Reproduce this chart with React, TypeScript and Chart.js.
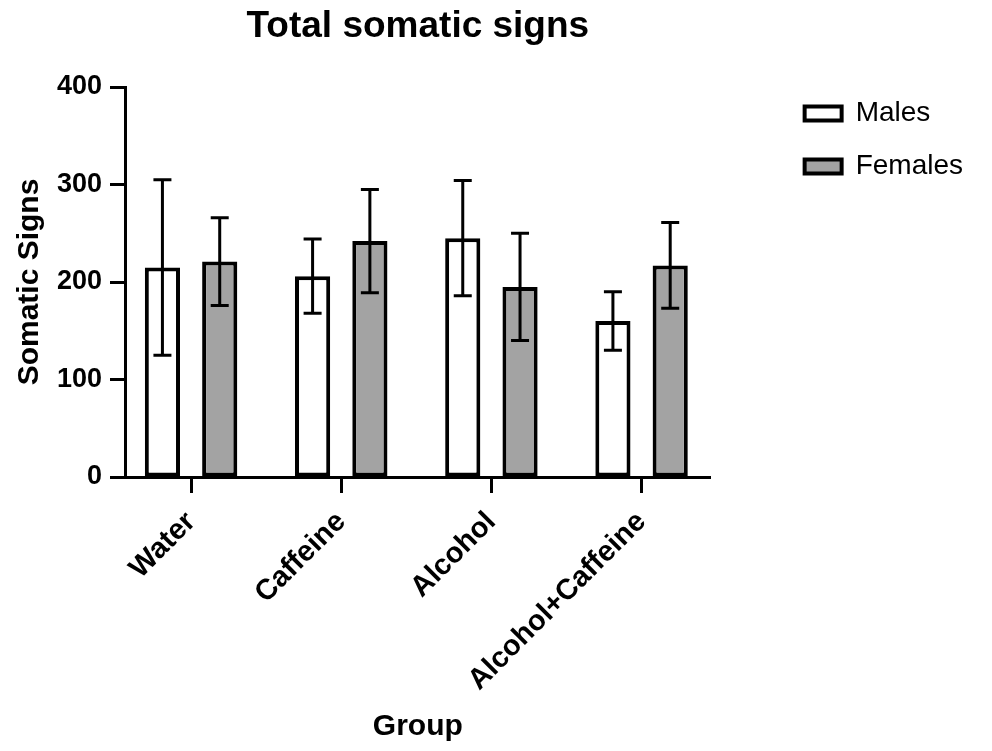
import React, { useEffect, useRef } from 'react';
import { Chart, registerables } from 'chart.js';

Chart.register(...registerables);

const categories = ['Water', 'Caffeine', 'Alcohol', 'Alcohol+Caffeine'];
const malesMean = [215, 206, 245, 160];
const malesErr = [90, 38, 59, 30];
const femalesMean = [221, 242, 195, 217];
const femalesErr = [45, 53, 55, 44];
const yTicks = [0, 100, 200, 300, 400];

const FONT = "'Liberation Sans', Arial, Helvetica, sans-serif";

const errorBars = {
  id: 'errorBars',
  afterDatasetsDraw(chart: any) {
    const { ctx } = chart;
    const y = chart.scales.y;
    chart.data.datasets.forEach((ds: any, di: number) => {
      const meta = chart.getDatasetMeta(di);
      meta.data.forEach((bar: any, i: number) => {
        const v = ds.data[i];
        const e = ds.errors[i];
        const top = y.getPixelForValue(v + e);
        const bot = y.getPixelForValue(v - e);
        const cap = 9;
        ctx.save();
        ctx.strokeStyle = '#000';
        ctx.lineWidth = 3;
        ctx.beginPath();
        ctx.moveTo(bar.x, top);
        ctx.lineTo(bar.x, bot);
        ctx.moveTo(bar.x - cap, top);
        ctx.lineTo(bar.x + cap, top);
        ctx.moveTo(bar.x - cap, bot);
        ctx.lineTo(bar.x + cap, bot);
        ctx.stroke();
        ctx.restore();
      });
    });
  },
};

export default function App() {
  const ref = useRef<HTMLCanvasElement | null>(null);

  useEffect(() => {
    if (!ref.current) return;
    const chart = new Chart(ref.current, {
      type: 'bar',
      data: {
        labels: categories,
        datasets: [
          {
            label: 'Males',
            data: malesMean,
            errors: malesErr,
            backgroundColor: '#ffffff',
            borderColor: '#000000',
            borderWidth: 4,
            borderSkipped: false,
          } as any,
          {
            label: 'Females',
            data: femalesMean,
            errors: femalesErr,
            backgroundColor: '#a3a3a3',
            borderColor: '#000000',
            borderWidth: 4,
            borderSkipped: false,
          } as any,
        ],
      },
      options: {
        animation: false,
        responsive: true,
        maintainAspectRatio: false,
        layout: { padding: { right: 19 } },
        datasets: { bar: { categoryPercentage: 0.763, barPercentage: 0.614 } },
        plugins: {
          title: {
            display: true,
            text: 'Total somatic signs',
            fullSize: false,
            color: '#000',
            font: { family: FONT, size: 37, weight: 'bold' },
            padding: { top: 5, bottom: 37.6 },
          },
          legend: {
            position: 'right',
            align: 'start',
            maxWidth: 300,
            title: { display: true, text: '', font: { size: 10 }, padding: { top: 62.5, bottom: 0 } },
            labels: {
              boxWidth: 37,
              boxHeight: 14,
              padding: 25,
              color: '#000',
              font: { family: FONT, size: 28 },
            },
          },
          tooltip: { enabled: false },
        },
        scales: {
          x: {
            type: 'category',
            offset: false,
            afterBuildTicks: (s: any) => {
              s._startValue = -0.44;
              s._valueRange = 3.9;
            },
            afterFit: (s: any) => {
              s.height = 274;
            },
            grid: {
              display: true,
              drawOnChartArea: false,
              offset: false,
              tickLength: 16,
              tickWidth: 3,
              tickColor: '#000',
            },
            border: { display: true, color: '#000', width: 3 },
            ticks: {
              minRotation: 45,
              maxRotation: 45,
              autoSkip: false,
              padding: 12,
              color: '#000',
              font: { family: FONT, size: 29, weight: 'bold' },
            },
            title: {
              display: true,
              text: 'Group',
              color: '#000',
              font: { family: FONT, size: 30, weight: 'bold' },
              padding: { top: 0, bottom: 6 },
            },
          },
          y: {
            min: 0,
            max: 400,
            afterBuildTicks: (s: any) => {
              s.ticks = yTicks.map((v) => ({ value: v }));
            },
            afterFit: (s: any) => {
              s.width = 125;
            },
            grid: {
              display: true,
              drawOnChartArea: false,
              tickLength: 15,
              tickWidth: 3,
              tickColor: '#000',
            },
            border: { display: true, color: '#000', width: 3 },
            ticks: {
              padding: 8,
              color: '#000',
              font: { family: FONT, size: 27, weight: 'bold' },
            },
            title: {
              display: true,
              text: 'Somatic Signs',
              color: '#000',
              font: { family: FONT, size: 30, weight: 'bold' },
              padding: { top: 12, bottom: 0 },
            },
          },
          spacer: {
            type: 'linear',
            position: 'right',
            display: true,
            afterFit: (s: any) => {
              s.width = 69;
            },
            grid: { display: false },
            border: { display: false },
            ticks: { display: false },
          },
        },
      } as any,
      plugins: [errorBars],
    });
    return () => chart.destroy();
  }, []);

  return (
    <div style={{ position: 'absolute', left: 0, top: 0, width: 992, height: 751, background: '#fff' }}>
      <canvas ref={ref} />
    </div>
  );
}
